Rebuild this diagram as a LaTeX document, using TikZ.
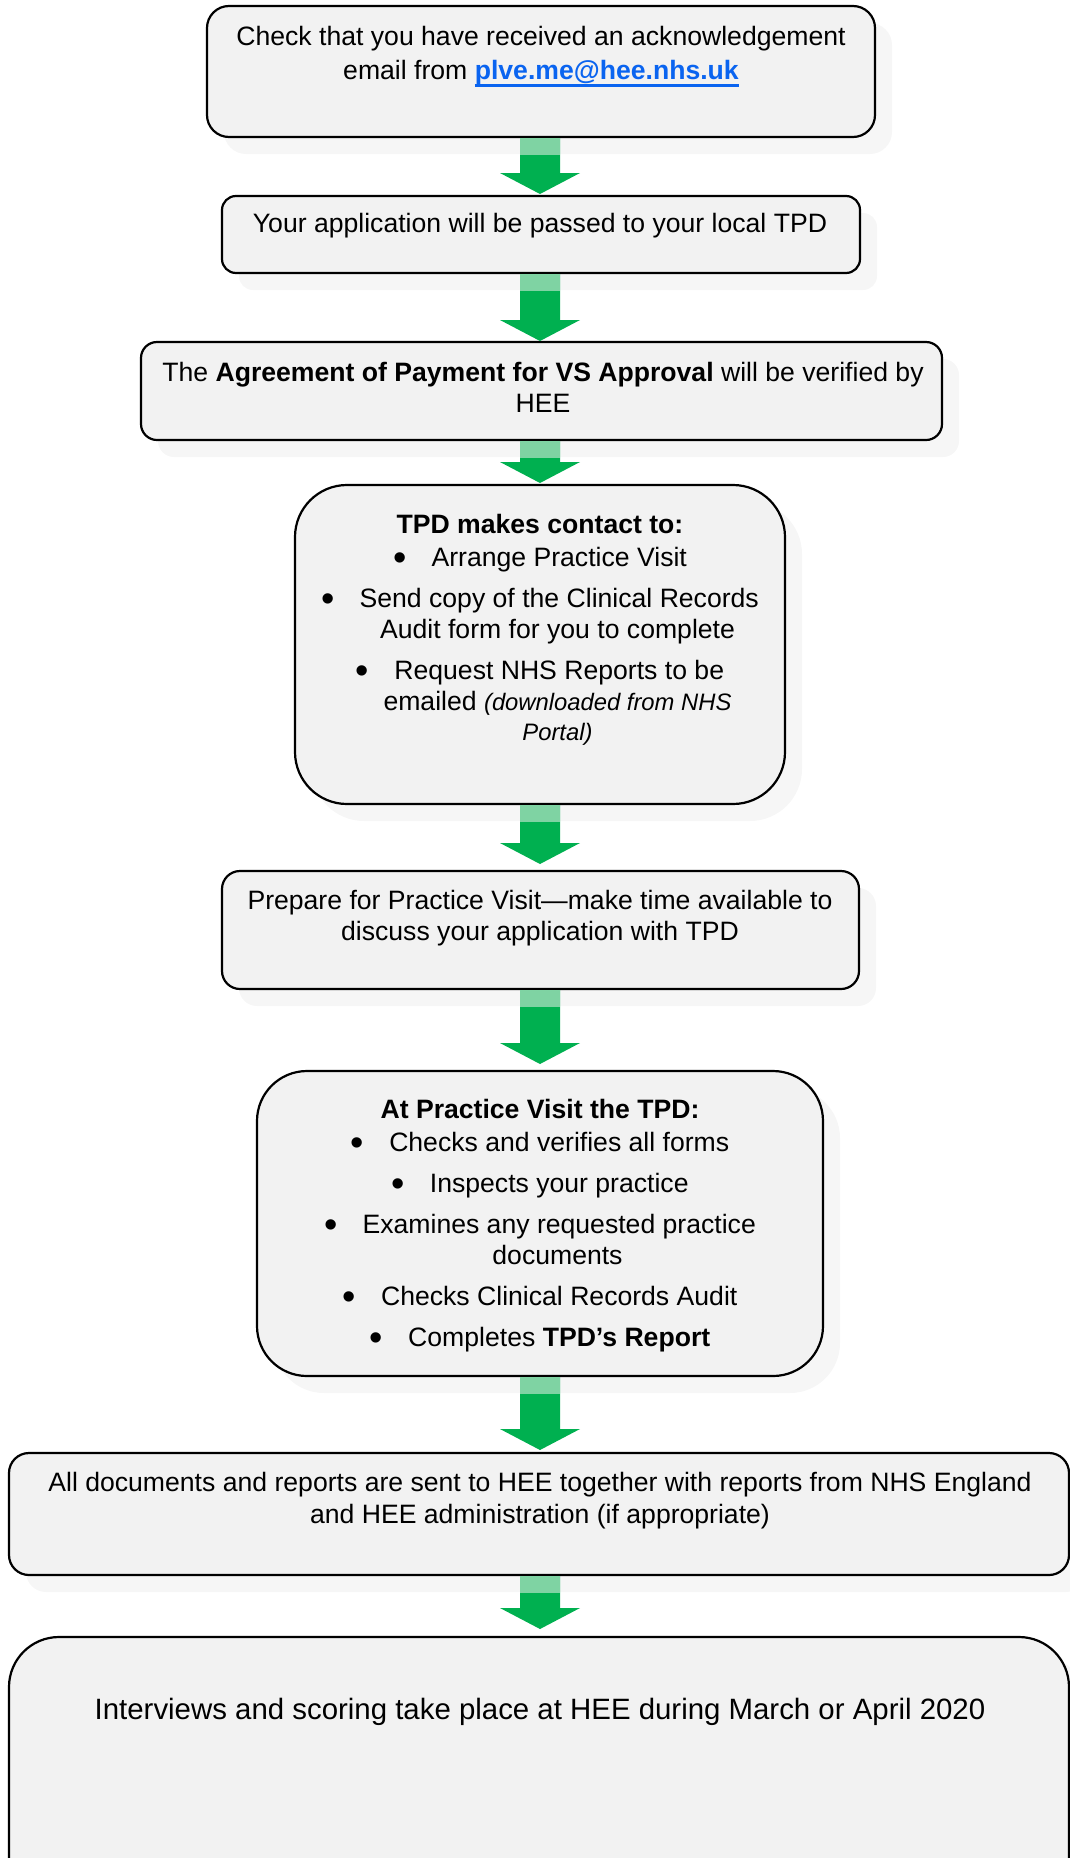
\documentclass[tikz,border=0pt]{standalone}
\usepackage{fontspec}
\setmainfont{Liberation Sans}
\usetikzlibrary{calc,shadows}
\definecolor{boxfill}{HTML}{F2F2F2}
\definecolor{shadowc}{HTML}{F6F6F6}
\definecolor{agreen}{HTML}{00B050}
\definecolor{alight}{HTML}{7FD3A3}
\definecolor{linkblue}{HTML}{0A64F0}
\newsavebox{\linkbox}
\newcommand{\maillink}[1]{\sbox{\linkbox}{\color{linkblue}\textbf{#1}}%
  {\color{linkblue}\rlap{\rule[-3.7pt]{\wd\linkbox}{1.4pt}}}\usebox{\linkbox}}
\newcommand{\fl}{\rule{0pt}{11pt}}
\newcommand{\bul}{\raisebox{-1.8pt}{\fontsize{19}{15.5}\selectfont •}\hspace{12.6pt}}
\newcommand{\cont}{\hspace*{17.5pt}}
\newcommand{\smit}[1]{{\fontsize{11.9}{15.5}\selectfont\itshape #1}}
\tikzset{
  flowbox/.style={draw=black, line width=1.1pt, fill=boxfill, inner sep=0pt, outer sep=0pt,
    drop shadow={shadow xshift=8.5pt, shadow yshift=-8.5pt, fill=shadowc, opacity=1}},
  flowtext/.style={anchor=north, align=center, inner sep=0pt, text=black,
    font=\fontsize{13.3}{15.5}\selectfont},
}
% from, to, gap (px)
\newcommand{\flowarrow}[3]{%
  \fill[agreen] let \p1=(#1.south), \p2=(#2.north) in
    (260pt,\y1-0.55pt) -- (280pt,\y1-0.55pt) -- (280pt,\y2+#3*0.5pt+10.5pt)
    -- (290pt,\y2+#3*0.5pt+10.5pt) -- (270pt,\y2+#3*0.5pt)
    -- (250pt,\y2+#3*0.5pt+10.5pt) -- (260pt,\y2+#3*0.5pt+10.5pt) -- cycle;
  \fill[alight] let \p1=(#1.south) in (260pt,\y1-0.55pt) rectangle (280pt,\y1-9pt);
}
\begin{document}
\begin{tikzpicture}[x=0.5pt,y=-0.5pt]
\useasboundingbox (0,0) rectangle (1070,1858);
\clip (0,0) rectangle (1070,1858);

% boxes
\node[flowbox, rounded corners=11pt, minimum width=334pt, minimum height=65.5pt] (b1) at (541,71.5) {};
\node[flowbox, rounded corners=7pt, minimum width=319pt, minimum height=38.5pt] (b2) at (541,234.5) {};
\node[flowbox, rounded corners=8pt, minimum width=400.5pt, minimum height=49pt] (b3) at (541.5,391) {};
\node[flowbox, rounded corners=26pt, minimum width=245pt, minimum height=159.5pt] (b4) at (540,644.5) {};
\node[flowbox, rounded corners=9pt, minimum width=318.5pt, minimum height=59pt] (b5) at (540.5,930) {};
\node[flowbox, rounded corners=25pt, minimum width=283pt, minimum height=152.5pt] (b6) at (540,1223.5) {};
\node[flowbox, rounded corners=10pt, minimum width=530pt, minimum height=61pt] (b7) at (539,1514) {};
\node[flowbox, rounded corners=25pt, minimum width=530pt, minimum height=136.5pt] (b8) at (539,1773.5) {};

% texts
\node[flowtext] (t1) at (541,23) {\fl Check that you have received an acknowledgement\\[1.5pt]
  email from \maillink{plve.me@hee.nhs.uk}};
\node[flowtext] (t2) at (540,210) {\fl Your application will be passed to your local TPD};
\node[flowtext] (t3) at (543,359) {\fl The \textbf{Agreement of Payment for VS Approval} will be verified by\\[0pt] HEE};
\node[flowtext] (t4) at (540,511) {\fl\textbf{TPD makes contact to:}\\[1pt]
  \bul Arrange Practice Visit\\[5pt]
  \bul Send copy of the Clinical Records\\
  \cont Audit form for you to complete\\[5pt]
  \bul Request NHS Reports to be\\
  \cont emailed \smit{(downloaded from NHS}\\[-0.5pt]
  \cont\smit{Portal)}};
\node[flowtext] (t5) at (540,887) {\fl Prepare for Practice Visit—make time available to\\
  discuss your application with TPD};
\node[flowtext] (t6) at (540,1096) {\fl\textbf{At Practice Visit the TPD:}\\[1pt]
  \bul Checks and verifies all forms\\[5pt]
  \bul Inspects your practice\\[5pt]
  \bul Examines any requested practice\\
  \cont documents\\[5pt]
  \bul Checks Clinical Records Audit\\[5pt]
  \bul Completes \textbf{TPD’s Report}};
\node[flowtext] (t7) at (540,1469) {\fl All documents and reports are sent to HEE together with reports from NHS England\\[0.5pt]
  and HEE administration (if appropriate)};
\node[flowtext, font=\fontsize{14.7}{17}\selectfont] (t8) at (540,1697) {\fl Interviews and scoring take place at HEE during March or April 2020};

% arrows
\flowarrow{b1}{b2}{2}
\flowarrow{b2}{b3}{1}
\flowarrow{b3}{b4}{2}
\flowarrow{b4}{b5}{7}
\flowarrow{b5}{b6}{7}
\flowarrow{b6}{b7}{3}
\flowarrow{b7}{b8}{8}
\end{tikzpicture}
\end{document}
